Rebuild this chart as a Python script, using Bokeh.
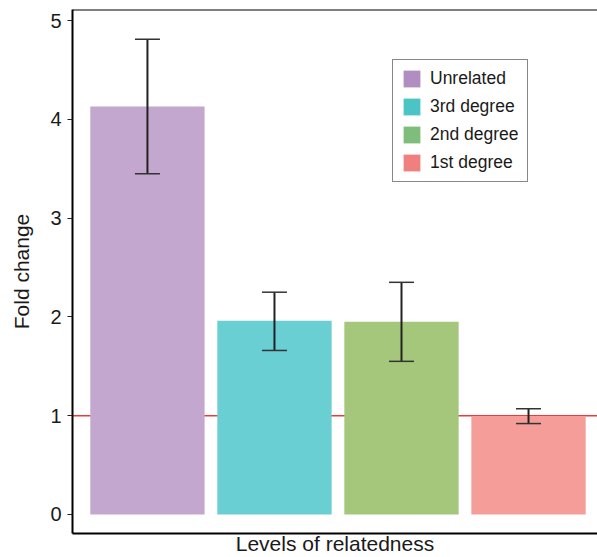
from bokeh.plotting import figure
from bokeh.models import (ColumnDataSource, Range1d, FixedTicker, Span, Whisker,
                          TeeHead, Legend, LegendItem)
from bokeh.embed import file_html
from bokeh.resources import INLINE

categories = ["Unrelated", "3rd degree", "2nd degree", "1st degree"]
fold_change = [4.13, 1.96, 1.95, 0.99]
err_lower = [3.45, 1.66, 1.55, 0.92]
err_upper = [4.81, 2.25, 2.35, 1.07]
bar_colors = ["#C3A7CF", "#69CFD3", "#A4C77B", "#F59E99"]
legend_colors = ["#B18EC1", "#4BC4C6", "#7FBD7A", "#F07F80"]
y_ticks = [0, 1, 2, 3, 4, 5]

FONT = "Liberation Sans"
TXT = "#1a1a1a"

xpos = list(range(1, len(categories) + 1))
src = ColumnDataSource(dict(x=xpos, top=fold_change, lower=err_lower,
                            upper=err_upper, color=bar_colors, cat=categories))

p = figure(width=597, height=557, output_backend="svg", toolbar_location=None,
           x_range=Range1d(0.41, 4.543), y_range=Range1d(-0.193, 5.112),
           min_border_left=72, min_border_right=0, min_border_top=9,
           min_border_bottom=24)
p.outline_line_color = None
p.grid.grid_line_color = None
p.background_fill_color = "white"
p.border_fill_color = "white"

# reference line at 1 (behind bars)
p.add_layout(Span(location=1, dimension="width", line_color="#F03A3A",
                  line_width=1.5, level="underlay"))

p.vbar(x="x", top="top", bottom=0, width=0.9, source=src, fill_color="color",
       line_color=None)

wh = Whisker(base="x", upper="upper", lower="lower", source=src,
             line_color="#222222", line_width=2, level="overlay",
             upper_head=TeeHead(size=25, line_color="#333333", line_width=1.5),
             lower_head=TeeHead(size=25, line_color="#333333", line_width=1.5))
p.add_layout(wh)

# top frame line
p.add_layout(Span(location=5.112, dimension="width", line_color="black",
                  line_width=2))

# legend (dummy zero-size bars carrying the legend colours)
items = []
for c, col in zip(categories, legend_colors):
    r = p.vbar(x=[1], top=[0], bottom=[0], width=0, fill_color=col,
               line_color=None)
    items.append(LegendItem(label=c, renderers=[r]))
leg = Legend(items=items, location=(320, 351))
leg.glyph_width = 21
leg.glyph_height = 21
leg.label_height = 21
leg.spacing = 7
leg.padding = 8
leg.margin = 0
leg.label_standoff = 8
leg.label_text_font = FONT
leg.label_text_font_size = "17.5px"
leg.label_text_color = TXT
leg.border_line_color = "#111111"
leg.border_line_width = 1.5
leg.background_fill_color = "white"
leg.background_fill_alpha = 1
p.add_layout(leg)

# y axis
yax = p.yaxis[0]
yax.ticker = FixedTicker(ticks=y_ticks)
yax.minor_tick_line_color = None
yax.major_tick_in = 0
yax.major_tick_out = 5
yax.major_tick_line_color = "#222222"
yax.major_tick_line_width = 1.2
yax.axis_line_color = "black"
yax.axis_line_width = 2
yax.major_label_text_font = FONT
yax.major_label_text_font_size = "20px"
yax.major_label_text_color = TXT
yax.major_label_standoff = 6
yax.axis_label = "Fold change"
yax.axis_label_text_font = FONT
yax.axis_label_text_font_size = "21px"
yax.axis_label_text_font_style = "normal"
yax.axis_label_text_color = TXT
yax.axis_label_standoff = 14

# x axis
xax = p.xaxis[0]
xax.ticker = FixedTicker(ticks=[])
xax.major_tick_line_color = None
xax.minor_tick_line_color = None
xax.major_tick_in = 0
xax.major_tick_out = 0
xax.major_label_text_font_size = "0px"
xax.major_label_standoff = 0
xax.axis_line_color = "black"
xax.axis_line_width = 2
xax.axis_label = "Levels of relatedness"
xax.axis_label_text_font = FONT
xax.axis_label_text_font_size = "21px"
xax.axis_label_text_font_style = "normal"
xax.axis_label_text_color = TXT
xax.axis_label_standoff = -2

open("out.html", "w").write(file_html(p, INLINE))
